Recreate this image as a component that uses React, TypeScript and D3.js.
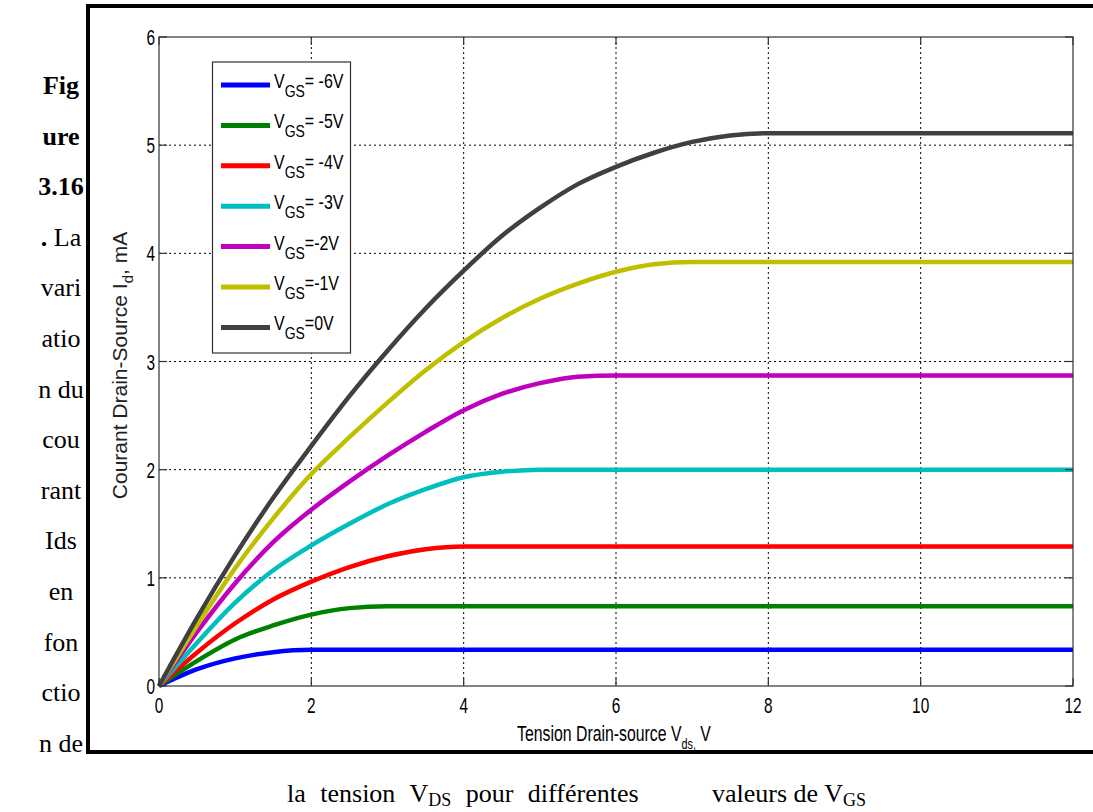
import React from "react";
import * as d3 from "d3";

const vds = [0, 0.5, 1, 1.5, 2, 2.5, 3, 3.5, 4, 4.5, 5, 5.5, 6, 6.5, 7, 7.5, 8, 9, 10, 11, 12];
const idVgsM6 = [0, 0.155, 0.255, 0.313, 0.335, 0.335, 0.335, 0.335, 0.335, 0.335, 0.335, 0.335, 0.335, 0.335, 0.335, 0.335, 0.335, 0.335, 0.335, 0.335, 0.335];
const idVgsM5 = [0, 0.232, 0.43, 0.56, 0.66, 0.72, 0.738, 0.738, 0.738, 0.738, 0.738, 0.738, 0.738, 0.738, 0.738, 0.738, 0.738, 0.738, 0.738, 0.738, 0.738];
const idVgsM4 = [0, 0.31, 0.58, 0.8, 0.965, 1.1, 1.2, 1.265, 1.29, 1.29, 1.29, 1.29, 1.29, 1.29, 1.29, 1.29, 1.29, 1.29, 1.29, 1.29, 1.29];
const idVgsM3 = [0, 0.4, 0.77, 1.07, 1.3, 1.5, 1.68, 1.82, 1.93, 1.98, 2.0, 2.0, 2.0, 2.0, 2.0, 2.0, 2.0, 2.0, 2.0, 2.0, 2.0];
const idVgsM2 = [0, 0.5, 0.95, 1.33, 1.63, 1.89, 2.13, 2.35, 2.55, 2.7, 2.8, 2.86, 2.87, 2.87, 2.87, 2.87, 2.87, 2.87, 2.87, 2.87, 2.87];
const idVgsM1 = [0, 0.56, 1.09, 1.55, 1.96, 2.3, 2.62, 2.92, 3.18, 3.4, 3.58, 3.72, 3.83, 3.9, 3.92, 3.92, 3.92, 3.92, 3.92, 3.92, 3.92];
const idVgs0 = [0, 0.63, 1.21, 1.74, 2.22, 2.68, 3.1, 3.49, 3.84, 4.16, 4.42, 4.64, 4.8, 4.93, 5.03, 5.09, 5.11, 5.11, 5.11, 5.11, 5.11];

const seriesValues = [idVgsM6, idVgsM5, idVgsM4, idVgsM3, idVgsM2, idVgsM1, idVgs0];
const seriesNames = ["= -6V", "= -5V", "= -4V", "= -3V", "=-2V", "=-1V", "=0V"];
const seriesColors = ["#0000ff", "#008000", "#ff0000", "#00bfbf", "#bf00bf", "#bfbf00", "#404040"];

const xTicks = [0, 2, 4, 6, 8, 10, 12];
const yTicks = [0, 1, 2, 3, 4, 5, 6];

const sideCaption: { t: string; bold?: boolean; mixed?: boolean }[] = [
  { t: "Fig", bold: true },
  { t: "ure", bold: true },
  { t: "3.16", bold: true },
  { t: ". La", mixed: true },
  { t: "vari" },
  { t: "atio" },
  { t: "n du" },
  { t: "cou" },
  { t: "rant" },
  { t: "Ids" },
  { t: "en" },
  { t: "fon" },
  { t: "ctio" },
  { t: "n de" },
];

const W = 1093;
const H = 812;
const L = 159, R = 1073, T = 37, B = 686;

export default function App() {
  const x = d3.scaleLinear().domain([0, 12]).range([L, R]);
  const y = d3.scaleLinear().domain([0, 6]).range([B, T]);
  const line = d3
    .line<number>()
    .x((_, i) => x(vds[i]))
    .y((d) => y(d))
    .curve(d3.curveMonotoneX);

  const tickFont = "'Liberation Sans', Arial, sans-serif";
  const serif = "'Liberation Serif', 'Times New Roman', serif";

  return (
    <svg
      width={W}
      height={H}
      style={{ position: "absolute", left: 0, top: 0, background: "#fff" }}
    >
      {/* outer frame */}
      <rect x={88} y={6} width={1100} height={746} fill="none" stroke="#000" strokeWidth={4} />

      {/* side caption */}
      {sideCaption.map((c, i) => (
        <text
          key={i}
          x={61}
          y={94 + 50.6 * i}
          textAnchor="middle"
          fontFamily={serif}
          fontSize={26}
          fontWeight={c.bold ? "bold" : "normal"}
        >
          {c.mixed ? (
            <>
              <tspan fontWeight="bold">.</tspan>
              <tspan> La</tspan>
            </>
          ) : (
            c.t
          )}
        </text>
      ))}

      {/* bottom caption */}
      <text x={287} y={802} fontFamily={serif} fontSize={26} wordSpacing={8}>
        <tspan>la tension V</tspan>
        <tspan fontSize={18} dy={4}>DS</tspan>
        <tspan dy={-4}> pour différentes</tspan>
      </text>
      <text x={712} y={802} fontFamily={serif} fontSize={26}>
        <tspan>valeurs de V</tspan>
        <tspan fontSize={18} dy={4}>GS</tspan>
      </text>

      {/* grid */}
      <g stroke="#000" strokeWidth={1} strokeDasharray="2,3">
        {xTicks.slice(1, -1).map((v) => (
          <line key={"gx" + v} x1={x(v)} x2={x(v)} y1={T} y2={B} />
        ))}
        {yTicks.slice(1, -1).map((v) => (
          <line key={"gy" + v} x1={L} x2={R} y1={y(v)} y2={y(v)} />
        ))}
      </g>

      {/* curves */}
      {seriesValues.map((vals, i) => (
        <path
          key={"s" + i}
          d={line(vals) || ""}
          fill="none"
          stroke={seriesColors[i]}
          strokeWidth={4.5}
          strokeLinejoin="round"
        />
      ))}

      {/* axes box & ticks */}
      <rect x={L} y={T} width={R - L} height={B - T} fill="none" stroke="#333" strokeWidth={1.2} />
      <g stroke="#333" strokeWidth={1.2}>
        {xTicks.map((v) => (
          <g key={"tx" + v}>
            <line x1={x(v)} x2={x(v)} y1={B} y2={B - 8} />
            <line x1={x(v)} x2={x(v)} y1={T} y2={T + 8} />
          </g>
        ))}
        {yTicks.map((v) => (
          <g key={"ty" + v}>
            <line x1={L} x2={L + 8} y1={y(v)} y2={y(v)} />
            <line x1={R} x2={R - 8} y1={y(v)} y2={y(v)} />
          </g>
        ))}
      </g>

      {/* tick labels */}
      {xTicks.map((v) => (
        <text
          key={"lx" + v}
          transform={`translate(${x(v)},713) scale(0.7,1)`}
          textAnchor="middle"
          fontFamily={tickFont}
          fontSize={22}
        >
          {v}
        </text>
      ))}
      {yTicks.map((v) => (
        <text
          key={"ly" + v}
          transform={`translate(155,${y(v) + 8}) scale(0.7,1)`}
          textAnchor="end"
          fontFamily={tickFont}
          fontSize={22}
        >
          {v}
        </text>
      ))}

      {/* axis titles */}
      <text transform="translate(517,741) scale(0.72,1)" fontFamily={tickFont} fontSize={22}>
        <tspan>Tension Drain-source V</tspan>
        <tspan fontSize={15} dy={8}>ds,</tspan>
        <tspan dy={-8}> V</tspan>
      </text>
      <text
        transform={`translate(127,${(T + B) / 2 + 4}) rotate(-90)`}
        textAnchor="middle"
        fontFamily={tickFont}
        fontSize={21}
        fill="#222"
      >
        <tspan>Courant Drain-Source I</tspan>
        <tspan fontSize={15} dy={6}>d</tspan>
        <tspan dy={-6}>, mA</tspan>
      </text>

      {/* legend */}
      <rect x={212.5} y={62} width={138} height={291} fill="#fff" stroke="#333" strokeWidth={1.2} />
      {seriesNames.map((n, i) => {
        const ly = 85 + 40.4 * i;
        return (
          <g key={"lg" + i}>
            <line x1={221} x2={270} y1={ly} y2={ly} stroke={seriesColors[i]} strokeWidth={5} />
            <text
              transform={`translate(274,${ly + 3}) scale(0.82,1)`}
              fontFamily={tickFont}
              fontSize={19.5}
            >
              <tspan>V</tspan>
              <tspan fontSize={17} dy={9}>GS</tspan>
              <tspan dy={-9}>{n}</tspan>
            </text>
          </g>
        );
      })}
    </svg>
  );
}
